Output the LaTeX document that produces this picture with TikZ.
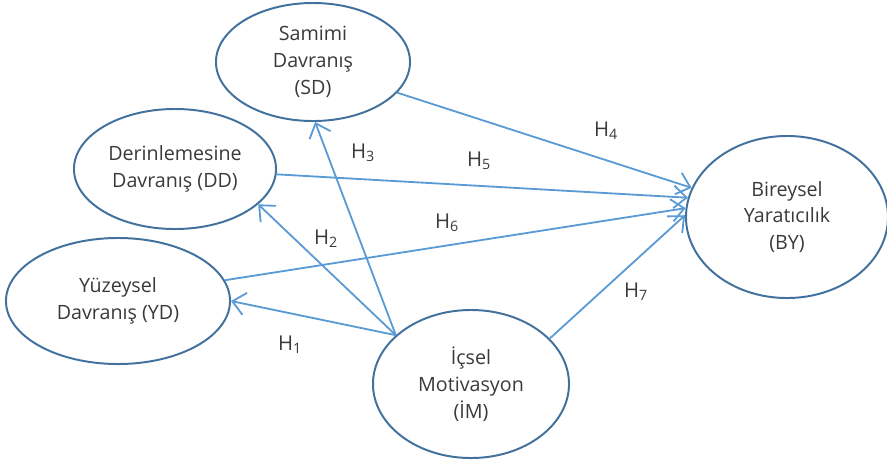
\documentclass[tikz,border=0pt]{standalone}
\usepackage{fontspec}
\setmainfont{Open Sans}
\usetikzlibrary{shapes.geometric,arrows.meta}
\definecolor{rim}{HTML}{41719C}
\definecolor{link}{HTML}{5B9BD5}
\definecolor{ink}{HTML}{3A3A3A}
\begin{document}
\begin{tikzpicture}[x=0.025cm,y=-0.025cm,
	construct/.style={ellipse,draw=rim,line width=1.4pt,inner sep=0pt,align=center,text=ink,font=\fontsize{14}{19}\selectfont},
	path/.style={draw=link,line width=1.3pt,-{Straight Barb[length=9pt,width=16pt]}},
	hyp/.style={text=ink,font=\fontsize{14.5}{17}\selectfont}]
		\useasboundingbox (0,0) rectangle (887,463);
		\node[construct,minimum width=4.85cm,minimum height=2.95cm] (sd) at (313,62) {Samimi\\Davranış\\(SD)};
		\node[construct,minimum width=5.05cm,minimum height=3cm] (dd) at (175,169) {Derinlemesine\\Davranış (DD)};
		\node[construct,minimum width=5.6cm,minimum height=3.15cm] (yd) at (118,301) {Yüzeysel\\Davranış (YD)};
		\node[construct,minimum width=5.05cm,minimum height=4.05cm] (by) at (787,217) {Bireysel\\Yaratıcılık\\(BY)};
		\node[construct,minimum width=4.9cm,minimum height=3.7cm] (im) at (471,384) {İçsel\\Motivasyon\\(İM)};
		\draw[path] (sd.-20) -- (by.163);
		\draw[path] (dd.-3) -- (by.169);
		\draw[path] (yd.11) -- (by.175);
		\draw[path] (im.30) -- (by.179);
		\draw[path] (im.147) -- (yd.0);
		\draw[path] (im.147) -- (dd.-23);
		\draw[path] (im.147) -- (sd.-88);
		\node[hyp] (h1) at (290,345) {H\textsubscript{1}};
		\node[hyp] (h2) at (326,239) {H\textsubscript{2}};
		\node[hyp] (h3) at (363,153) {H\textsubscript{3}};
		\node[hyp] (h4) at (606,131) {H\textsubscript{4}};
		\node[hyp] (h5) at (479,161) {H\textsubscript{5}};
		\node[hyp] (h6) at (447,223) {H\textsubscript{6}};
		\node[hyp] (h7) at (636,292) {H\textsubscript{7}};
		\end{tikzpicture}
\end{document}
